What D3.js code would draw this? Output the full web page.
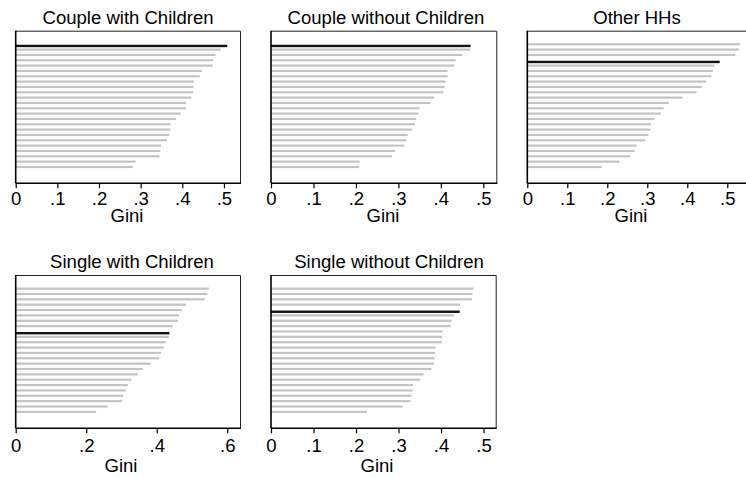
<!DOCTYPE html>
<html>
<head>
<meta charset="utf-8">
<script src="https://cdn.jsdelivr.net/npm/d3@7/dist/d3.min.js"></script>
<style>
  html, body { margin: 0; padding: 0; background: #fff; }
  svg { display: block; }
  text { font-family: Arial, "Liberation Sans", sans-serif; fill: #000; }
</style>
</head>
<body>
<svg id="chart" width="746" height="478"></svg>
<script>
// Gini coefficients by household type, sorted high to low; one country highlighted per panel
const panelTitles = [
  "Couple with Children",
  "Couple without Children",
  "Other HHs",
  "Single with Children",
  "Single without Children"
];

const coupleWithChildren = [0.508, 0.492, 0.480, 0.474, 0.473, 0.447, 0.442, 0.428, 0.427, 0.426, 0.422, 0.409,
  0.409, 0.396, 0.385, 0.372, 0.371, 0.369, 0.363, 0.349, 0.347, 0.345, 0.288, 0.281];
const coupleWithoutChildren = [0.470, 0.469, 0.450, 0.435, 0.432, 0.416, 0.416, 0.411, 0.409, 0.406, 0.384, 0.375,
  0.350, 0.347, 0.342, 0.339, 0.332, 0.322, 0.319, 0.314, 0.292, 0.285, 0.209, 0.208];
const otherHHs = [0.532, 0.529, 0.520, 0.481, 0.468, 0.464, 0.460, 0.447, 0.436, 0.423, 0.388, 0.354,
  0.341, 0.334, 0.318, 0.309, 0.308, 0.303, 0.295, 0.273, 0.268, 0.257, 0.230, 0.186];
const singleWithChildren = [0.548, 0.544, 0.536, 0.483, 0.471, 0.463, 0.460, 0.445, 0.436, 0.434, 0.425, 0.420,
  0.412, 0.407, 0.383, 0.360, 0.347, 0.328, 0.318, 0.312, 0.305, 0.302, 0.261, 0.228];
const singleWithoutChildren = [0.476, 0.474, 0.473, 0.445, 0.444, 0.430, 0.425, 0.423, 0.404, 0.403, 0.402, 0.387,
  0.386, 0.385, 0.383, 0.377, 0.359, 0.351, 0.334, 0.333, 0.331, 0.328, 0.310, 0.226];

// position of the highlighted (black) bar within each panel
const highlightIndex = [0, 0, 3, 8, 4];

// axis ticks and upper end of each value axis
const ticksFine = [0, 0.1, 0.2, 0.3, 0.4, 0.5];
const ticksCoarse = [0, 0.2, 0.4, 0.6];
const panelTicks = [ticksFine, ticksFine, ticksFine, ticksCoarse, ticksFine];
const axisMax = [0.541, 0.533, 0.552, 0.639, 0.531];
const axisTitle = "Gini";

const panelValues = [coupleWithChildren, coupleWithoutChildren, otherHHs, singleWithChildren, singleWithoutChildren];

// plot-region boxes for the 2x3 grid; tx / gx are title and axis-title centres,
// ty / gy their baselines, ly the tick-label shift
const boxes = [
  { x: 15.7,  y: 30.7, w: 225.3, h: 152.6, tx: 128, ty: 24,  gx: 127, gy: 222, ly: 0 },
  { x: 271,   y: 30.7, w: 226.3, h: 152.6, tx: 386, ty: 24,  gx: 383, gy: 222, ly: 0 },
  { x: 527.3, y: 30.7, w: 220.8, h: 152.6, tx: 637, ty: 24,  gx: 631, gy: 222, ly: 0 },
  { x: 15.7,  y: 275,  w: 225.3, h: 153.3, tx: 132, ty: 268, gx: 121, gy: 472, ly: 2 },
  { x: 271,   y: 275,  w: 225.7, h: 153.3, tx: 389, ty: 268, gx: 377, gy: 472, ly: 2 }
];

const FONT = 17.5;     // text size
const STRETCH = 1.06;  // horizontal widening of the lettering

const svg = d3.select("#chart");
const fmt = d => d === 0 ? "0" : d3.format(".1f")(d).replace(/^0/, "");

function label(x, y, str) {
  svg.append("g")
    .attr("transform", `translate(${x},${y})`)
    .append("text")
    .attr("transform", `scale(${STRETCH},1)`)
    .attr("text-anchor", "middle")
    .attr("font-size", FONT)
    .text(str);
}

panelValues.forEach((vals, p) => {
  const b = boxes[p];
  const g = svg.append("g").attr("transform", `translate(${b.x},${b.y})`);

  const x = d3.scaleLinear().domain([0, axisMax[p]]).range([0, b.w]);
  const y = d3.scalePoint()
    .domain(d3.range(vals.length))
    .range([0, b.h])
    .padding(2.8)
    .align(0.45);

  // frame (top and right edges)
  g.append("path")
    .attr("d", `M0,0.5H${b.w - 0.5}V${b.h}`)
    .attr("fill", "none")
    .attr("stroke", "#222")
    .attr("stroke-width", 1);

  // gray bars
  g.selectAll("rect.bar")
    .data(vals.map((v, i) => ({ v, i })).filter(d => d.i !== highlightIndex[p]))
    .join("rect")
    .attr("class", "bar")
    .attr("x", 0)
    .attr("y", d => y(d.i) - 1)
    .attr("width", d => x(d.v))
    .attr("height", 2.2)
    .attr("fill", "#c4c4c4");

  // highlighted bar
  const hi = highlightIndex[p];
  g.append("rect")
    .attr("x", 0)
    .attr("y", y(hi) + 0.6)
    .attr("width", x(vals[hi]))
    .attr("height", 2.4)
    .attr("fill", "#111");

  // left axis line
  g.append("line")
    .attr("x1", 0).attr("x2", 0)
    .attr("y1", 0).attr("y2", b.h)
    .attr("stroke", "#000")
    .attr("stroke-width", 1.6);

  // bottom value axis
  const ax = g.append("g")
    .attr("transform", `translate(0,${b.h})`)
    .call(d3.axisBottom(x).tickValues(panelTicks[p]).tickFormat(fmt).tickSize(5).tickPadding(4 + b.ly));
  ax.select(".domain").attr("stroke", "#000").attr("stroke-width", 1.4).attr("d", `M0,0H${b.w}`);
  ax.selectAll(".tick line").attr("stroke", "#000").attr("stroke-width", 1.2);
  ax.selectAll(".tick text")
    .attr("font-size", FONT)
    .attr("font-family", "Arial, 'Liberation Sans', sans-serif")
    .attr("fill", "#000")
    .attr("transform", `scale(${STRETCH},1)`);

  // axis title and panel title
  label(b.gx, b.gy, axisTitle);
  label(b.tx, b.ty, panelTitles[p]);
});
</script>
</body>
</html>
